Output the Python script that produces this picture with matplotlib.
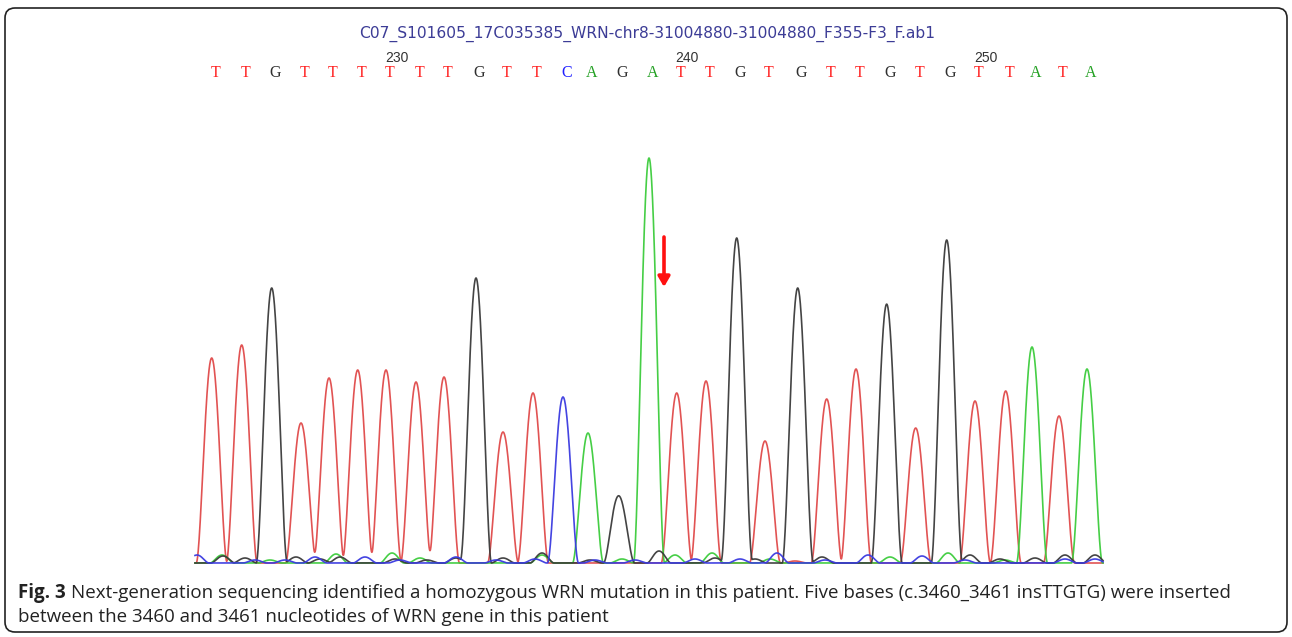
import numpy as np
import matplotlib
matplotlib.use('Agg')
import matplotlib.pyplot as plt
from matplotlib.patches import FancyBboxPatch
import matplotlib.transforms as mtransforms

# ---------------- data ----------------
title = "C07_S101605_17C035385_WRN-chr8-31004880-31004880_F355-F3_F.ab1"
bases = list("TTGTTTTTTGTTCAGATTGTGTTGTGTTATA")
peak_scan = [16.7, 46.7, 76.7, 106, 134, 162.7, 191, 221, 249, 281, 308, 338,
             368, 393, 424, 454, 481.7, 511, 541.7, 570, 602.7, 631.7, 661,
             691.7, 720.7, 751.7, 780, 810.7, 837, 864, 892]
peak_height = [205, 218, 275, 140, 185, 193, 193, 181, 184, 285, 131, 170,
               166, 130, 64, 405, 170, 182, 325, 122, 275, 164, 194, 256,
               133, 323, 162, 172, 216, 147, 194]
first_position = 224
tick_positions = [230, 240, 250]

minor_scan_G = [28, 50, 101, 125, 145, 200, 232, 261, 308, 347, 395, 420, 464,
                520, 560, 627, 690, 775, 805, 840, 870, 900]
minor_h_G = [7, 5, 6, 4, 6, 4, 3, 5, 5, 10, 3, 4, 12, 5, 4, 6, 3, 8, 4, 5, 8, 8]
minor_scan_A = [27, 75, 141, 197, 225, 347, 427, 480, 517, 575, 695, 753, 810]
minor_h_A = [8, 3, 9, 10, 5, 8, 4, 8, 10, 4, 6, 10, 3]
minor_scan_C = [2, 60, 90, 120, 170, 205, 261, 301, 340, 400, 440, 500, 545,
                582, 630, 673, 727, 770, 870, 900]
minor_h_C = [8, 3, 3, 6, 6, 3, 6, 3, 4, 3, 3, 4, 4, 10, 3, 8, 7, 3, 4, 4]
minor_scan_T = [250, 600, 720]
minor_h_T = [2, 2, 2]

arrow_scan = 469
arrow_from, arrow_to = 326, 276

caption_bold = "Fig. 3"
caption_line1 = ("Next-generation sequencing identified a homozygous WRN mutation in this patient. "
                 "Five bases (c.3460_3461 insTTGTG) were inserted")
caption_line2 = "between the 3460 and 3461 nucleotides of WRN gene in this patient"

# ---------------- styling ----------------
W, H = 1292, 637
trace_col = {'T': '#e04a4a', 'G': '#3a3a3a', 'A': '#3ccc3c', 'C': '#3a3ae0'}
letter_col = {'T': '#ff2020', 'G': '#303030', 'A': '#22a022', 'C': '#2020ff'}
minor = {'G': (minor_scan_G, minor_h_G), 'A': (minor_scan_A, minor_h_A),
         'C': (minor_scan_C, minor_h_C), 'T': (minor_scan_T, minor_h_T)}


def peak_shape(x, centre, height, half_width):
    u = (x - centre) / half_width
    return height * np.clip(1 - u ** 2, 0, None) ** 2


fig = plt.figure(figsize=(W / 100, H / 100), dpi=100)
fig.patch.set_facecolor('white')

ax = fig.add_axes([195 / W, (H - 570) / H, 908 / W, 430 / H])
ax.set_xlim(0, 908)
ax.set_ylim(-7, 423)
ax.axis('off')

x = np.linspace(0, 908, 4000)
for b in ['T', 'A', 'G', 'C']:
    y = np.zeros_like(x)
    for p, h, bb in zip(peak_scan, peak_height, bases):
        if bb == b:
            y += peak_shape(x, p, h, 15.5)
    ms, mh = minor[b]
    for p, h in zip(ms, mh):
        y += peak_shape(x, p, h, 12.0)
    ax.plot(x, y, color=trace_col[b], lw=1.2, alpha=0.95, clip_on=False)

# red arrow
ax.annotate('', xy=(arrow_scan, arrow_to), xytext=(arrow_scan, arrow_from),
            arrowprops=dict(arrowstyle='-|>,head_width=0.35,head_length=0.6',
                            color='#ff1010', lw=2.6, shrinkA=0, shrinkB=0))

# base letters and position numbers
blend = mtransforms.blended_transform_factory(ax.transData, fig.transFigure)
for i, (p, b) in enumerate(zip(peak_scan, bases)):
    ax.text(p + 3.5, 1 - 73 / H, b, transform=blend, ha='center', va='center',
            color=letter_col[b], fontsize=11.5, family='Liberation Serif')
    pos = first_position + i
    if pos in tick_positions:
        ax.text(p + 3.5 - 4.5, 1 - 58 / H, str(pos), transform=blend, ha='left',
                va='center', color='#333333', fontsize=10, family='Liberation Sans')

fig.text(647.5 / W, 1 - 34 / H, title, ha='center', va='center',
         color='#3c3c96', fontsize=11.2, family='DejaVu Sans')

# border
box = FancyBboxPatch((5 / 100, (H - 632) / 100), 1282 / 100, 624 / 100,
                     boxstyle='round,pad=0,rounding_size=0.1',
                     transform=fig.dpi_scale_trans, facecolor='none',
                     edgecolor='#222222', lw=1.2)
fig.add_artist(box)

# caption
cap_fs = 13.5
t1 = fig.text(18 / W, 1 - 593 / H, caption_bold, ha='left', va='center',
              fontsize=cap_fs, family='Open Sans', weight='bold', color='#222222')
fig.canvas.draw()
bb = t1.get_window_extent(fig.canvas.get_renderer())
fig.text((bb.x1 + 5) / W, 1 - 593 / H, caption_line1, ha='left', va='center',
         fontsize=cap_fs, family='Open Sans', color='#222222')
fig.text(18 / W, 1 - 617 / H, caption_line2, ha='left', va='center',
         fontsize=cap_fs, family='Open Sans', color='#222222')

fig.savefig('out.png', dpi=100, facecolor='white')
